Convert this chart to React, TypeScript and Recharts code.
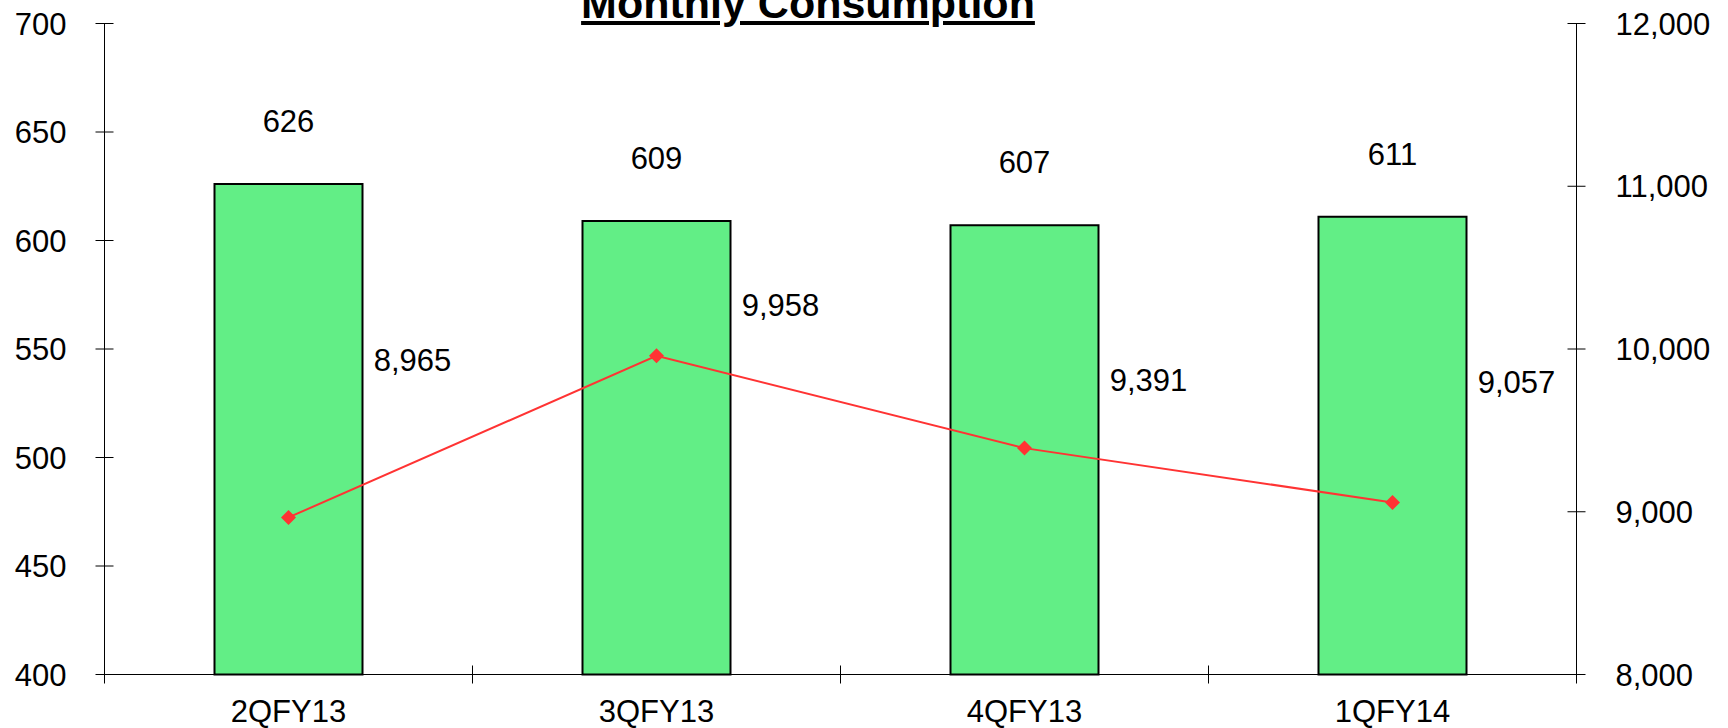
import { ComposedChart, Bar, Line, XAxis, YAxis, LabelList } from "recharts";

const QUARTERS = ["2QFY13", "3QFY13", "4QFY13", "1QFY14"];
const UNITS = [626, 609, 607, 611];
const CONSUMPTION = [8965, 9958, 9391, 9057];
const LEFT_TICKS = [400, 450, 500, 550, 600, 650, 700];
const RIGHT_TICKS = [8000, 9000, 10000, 11000, 12000];
// manual nudges for the line labels, as in the source sheet
const LINE_LABEL_DY = [-157, -51, -68, -120];

const W = 1728;
const H = 728;
const LEFT_W = 104.5;
const RIGHT_W = 151.5;
const BAND = (W - LEFT_W - RIGHT_W) / QUARTERS.length;
const FONT = "'Liberation Sans', Arial, sans-serif";
const RED = "#ff3333";

const data = QUARTERS.map((q, i) => ({ quarter: q, units: UNITS[i], consumption: CONSUMPTION[i] }));

const fmt = (v: number) => v.toLocaleString("en-US");

const LeftTick = (props: any) => {
  const { x, y, payload } = props;
  const ax = x + 38;
  return (
    <g>
      <line x1={ax - 9} x2={ax + 9} y1={y} y2={y} stroke="#000" />
      <text x={x} y={y + 11} textAnchor="end" fontSize={31} fill="#000" fontFamily={FONT}>
        {payload.value}
      </text>
    </g>
  );
};

const RightTick = (props: any) => {
  const { x, y, payload } = props;
  const ax = x - 39;
  return (
    <g>
      <line x1={ax - 9} x2={ax + 9} y1={y} y2={y} stroke="#000" />
      <text x={x} y={y + 11} textAnchor="start" fontSize={31} fill="#000" fontFamily={FONT}>
        {fmt(payload.value)}
      </text>
    </g>
  );
};

const BottomTick = (props: any) => {
  const { x, y, payload, index } = props;
  const ay = y - 25;
  return (
    <g>
      <line x1={x - BAND / 2} x2={x - BAND / 2} y1={ay - 9} y2={ay + 9} stroke="#000" />
      {index === QUARTERS.length - 1 && (
        <line x1={x + BAND / 2} x2={x + BAND / 2} y1={ay - 9} y2={ay + 9} stroke="#000" />
      )}
      <text x={x} y={y + 22} textAnchor="middle" fontSize={31} fill="#000" fontFamily={FONT}>
        {payload.value}
      </text>
    </g>
  );
};

const Diamond = (props: any) => {
  const { cx, cy } = props;
  if (cx == null || cy == null) return null;
  const r = 7.5;
  return (
    <polygon
      points={`${cx},${cy - r} ${cx + r},${cy} ${cx},${cy + r} ${cx - r},${cy}`}
      fill={RED}
    />
  );
};

const LineLabel = (props: any) => {
  const { x, y, value, index } = props;
  return (
    <text
      x={x + 124}
      y={y + LINE_LABEL_DY[index] + 11}
      textAnchor="middle"
      fontSize={31}
      fill="#000"
      fontFamily={FONT}
    >
      {fmt(value)}
    </text>
  );
};

export default function App() {
  return (
    <div style={{ position: "absolute", left: 0, top: 0, width: W, height: H, background: "#fff", fontFamily: FONT, overflow: "hidden" }}>
      <ComposedChart width={W} height={H} data={data} margin={{ top: 23.5, right: 0, bottom: 0, left: 0 }}>
        <XAxis
          dataKey="quarter"
          height={53.5}
          stroke="#000"
          tickLine={false}
          tickSize={0}
          tickMargin={25}
          tick={<BottomTick />}
          interval={0}
        />
        <YAxis
          yAxisId="left"
          width={LEFT_W}
          domain={[400, 700]}
          ticks={LEFT_TICKS}
          stroke="#000"
          tickLine={false}
          tickSize={0}
          tickMargin={38}
          tick={<LeftTick />}
          interval={0}
        />
        <YAxis
          yAxisId="right"
          orientation="right"
          width={RIGHT_W}
          domain={[8000, 12000]}
          ticks={RIGHT_TICKS}
          stroke="#000"
          tickLine={false}
          tickSize={0}
          tickMargin={39}
          tick={<RightTick />}
          interval={0}
        />
        <Bar yAxisId="left" dataKey="units" barSize={148} fill="#62ee86" stroke="#000" strokeWidth={2} isAnimationActive={false}>
          <LabelList dataKey="units" position="top" offset={52} fontSize={31} fill="#000" fontFamily={FONT} />
        </Bar>
        <Line
          yAxisId="right"
          dataKey="consumption"
          stroke={RED}
          strokeWidth={2}
          dot={<Diamond />}
          activeDot={false}
          isAnimationActive={false}
        >
          <LabelList dataKey="consumption" content={<LineLabel />} />
        </Line>
      </ComposedChart>
      <div
        style={{
          position: "absolute",
          left: 558,
          top: -18,
          width: 500,
          textAlign: "center",
          fontSize: 43,
          lineHeight: "43px",
          fontWeight: "bold",
          textDecoration: "underline",
          color: "#000",
        }}
      >
        Monthly Consumption
      </div>
    </div>
  );
}
